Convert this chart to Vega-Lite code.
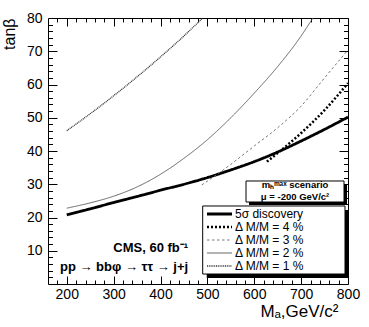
{
  "$schema": "https://vega.github.io/schema/vega-lite/v6.json",
  "width": 300,
  "height": 266,
  "autosize": {"type": "none"},
  "padding": {"left": 48, "top": 18, "right": 21, "bottom": 43},
  "background": "white",
  "config": {
    "view": {"stroke": "black", "strokeWidth": 1},
    "font": "Liberation Sans",
    "axis": {"grid": false, "domain": false, "tickColor": "black", "labelColor": "black", "titleColor": "black", "labelFont": "Liberation Sans", "titleFont": "Liberation Sans"}
  },
  "resolve": {"axis": {"x": "independent", "y": "independent"}},
  "datasets": {
    "curves": [
      {"s": "5σ discovery", "x": 200, "y": 20.8},
      {"s": "5σ discovery", "x": 250, "y": 22.6},
      {"s": "5σ discovery", "x": 300, "y": 24.5},
      {"s": "5σ discovery", "x": 350, "y": 26.3},
      {"s": "5σ discovery", "x": 400, "y": 28.2},
      {"s": "5σ discovery", "x": 450, "y": 30.0},
      {"s": "5σ discovery", "x": 500, "y": 32.0},
      {"s": "5σ discovery", "x": 550, "y": 34.3},
      {"s": "5σ discovery", "x": 600, "y": 36.8},
      {"s": "5σ discovery", "x": 650, "y": 39.7},
      {"s": "5σ discovery", "x": 700, "y": 43.0},
      {"s": "5σ discovery", "x": 750, "y": 46.5},
      {"s": "5σ discovery", "x": 800, "y": 50.2},
      {"s": "Δ M/M = 4 %", "x": 627, "y": 36.8},
      {"s": "Δ M/M = 4 %", "x": 650, "y": 39.4},
      {"s": "Δ M/M = 4 %", "x": 700, "y": 45.4},
      {"s": "Δ M/M = 4 %", "x": 750, "y": 52.3},
      {"s": "Δ M/M = 4 %", "x": 800, "y": 60.4},
      {"s": "Δ M/M = 3 %", "x": 488, "y": 29.8},
      {"s": "Δ M/M = 3 %", "x": 525, "y": 33.4},
      {"s": "Δ M/M = 3 %", "x": 550, "y": 36.0},
      {"s": "Δ M/M = 3 %", "x": 600, "y": 41.5},
      {"s": "Δ M/M = 3 %", "x": 650, "y": 47.0},
      {"s": "Δ M/M = 3 %", "x": 700, "y": 53.5},
      {"s": "Δ M/M = 3 %", "x": 750, "y": 62.0},
      {"s": "Δ M/M = 3 %", "x": 800, "y": 70.4},
      {"s": "Δ M/M = 2 %", "x": 200, "y": 22.8},
      {"s": "Δ M/M = 2 %", "x": 250, "y": 24.4},
      {"s": "Δ M/M = 2 %", "x": 300, "y": 26.4},
      {"s": "Δ M/M = 2 %", "x": 350, "y": 29.2},
      {"s": "Δ M/M = 2 %", "x": 400, "y": 33.0},
      {"s": "Δ M/M = 2 %", "x": 450, "y": 37.8},
      {"s": "Δ M/M = 2 %", "x": 500, "y": 43.4},
      {"s": "Δ M/M = 2 %", "x": 550, "y": 50.0},
      {"s": "Δ M/M = 2 %", "x": 600, "y": 57.4},
      {"s": "Δ M/M = 2 %", "x": 650, "y": 65.4},
      {"s": "Δ M/M = 2 %", "x": 700, "y": 74.6},
      {"s": "Δ M/M = 2 %", "x": 725, "y": 80.0},
      {"s": "Δ M/M = 1 %", "x": 200, "y": 46.1},
      {"s": "Δ M/M = 1 %", "x": 250, "y": 51.2},
      {"s": "Δ M/M = 1 %", "x": 300, "y": 56.6},
      {"s": "Δ M/M = 1 %", "x": 350, "y": 62.3},
      {"s": "Δ M/M = 1 %", "x": 400, "y": 68.3},
      {"s": "Δ M/M = 1 %", "x": 450, "y": 74.6},
      {"s": "Δ M/M = 1 %", "x": 490, "y": 80.0}
    ],
    "boxes": [
      {"kind": "shadow", "x": 588.8, "x2": 797.9, "y": 30.08, "y2": 23.76},
      {"kind": "shadow", "x": 498.6, "x2": 802, "y": 22.26, "y2": 1.8},
      {"kind": "box", "x": 582.4, "x2": 791.5, "y": 30.98, "y2": 24.66},
      {"kind": "box", "x": 490, "x2": 793.6, "y": 23.46, "y2": 3.0}
    ],
    "notes": [
      {"x": 459, "y": 9.7, "text": "CMS, 60 fb⁻¹"},
      {"x": 459, "y": 3.76, "text": "pp → bbφ → ττ → j+j"}
    ],
    "scen": [
      {"x": 687, "y": 28.9, "text": "mₕᵐᵃˣ scenario"},
      {"x": 687, "y": 25.26, "text": "μ = -200 GeV/c²"}
    ]
  },
  "layer": [
    {
      "data": {"name": "curves"},
      "mark": {"type": "line", "interpolate": "monotone", "clip": true},
      "encoding": {
        "x": {"field": "x", "type": "quantitative", "scale": {"domain": [160, 800], "nice": false, "zero": false},
          "axis": {"orient": "bottom", "values": [200, 300, 400, 500, 600, 700, 800], "ticks": false, "labelFontSize": 14, "labelPadding": 3, "labelFlush": false, "labelOverlap": false,
            "title": "Mₐ,GeV/c²", "titleFontSize": 17, "titleFontWeight": "normal", "titleAlign": "right", "titleBaseline": "alphabetic", "titleX": 290, "titleY": 32}},
        "y": {"field": "y", "type": "quantitative", "scale": {"domain": [0, 80], "nice": false, "zero": false},
          "axis": {"orient": "left", "values": [10, 20, 30, 40, 50, 60, 70, 80], "ticks": false, "labelFontSize": 14, "labelPadding": 6, "labelOverlap": false, "labelFlush": false,
            "title": "tanβ", "titleFontSize": 16, "titleFontWeight": "normal", "titleAngle": 270, "titleAlign": "right", "titleBaseline": "alphabetic", "titleX": -33.5, "titleY": 0}},
        "color": {"field": "s", "type": "nominal",
          "scale": {"domain": ["5σ discovery", "Δ M/M = 4 %", "Δ M/M = 3 %", "Δ M/M = 2 %", "Δ M/M = 1 %"], "range": ["#000000", "#000000", "#666666", "#555555", "#333333"]},
          "legend": {"orient": "none", "legendX": 153, "legendY": 190, "title": null, "padding": 0, "offset": 0, "labelFontSize": 12, "labelFont": "Liberation Sans", "labelColor": "black", "symbolType": "M0,0H6", "symbolSize": 69.4, "symbolStrokeWidth": 1.8, "labelOffset": 22, "rowPadding": 1,
            "encoding": {"symbols": {"strokeWidth": {"value": {"expr": "datum.value === '5σ discovery' ? 2.8 : datum.value === 'Δ M/M = 4 %' ? 2.5 : datum.value === 'Δ M/M = 1 %' ? 1.3 : 0.9"}}}}}},
        "strokeDash": {"field": "s", "type": "nominal",
          "scale": {"domain": ["5σ discovery", "Δ M/M = 4 %", "Δ M/M = 3 %", "Δ M/M = 2 %", "Δ M/M = 1 %"], "range": [[1, 0], [2, 2], [2.5, 2.5], [1, 0], [1, 0.8]]},
          "legend": {"orient": "none", "legendX": 153, "legendY": 190, "title": null, "padding": 0, "offset": 0, "labelFontSize": 12, "labelFont": "Liberation Sans", "labelColor": "black", "symbolType": "M0,0H6", "symbolSize": 69.4, "symbolStrokeWidth": 1.8, "labelOffset": 22, "rowPadding": 1,
            "encoding": {"symbols": {"strokeWidth": {"value": {"expr": "datum.value === '5σ discovery' ? 2.8 : datum.value === 'Δ M/M = 4 %' ? 2.5 : datum.value === 'Δ M/M = 1 %' ? 1.3 : 0.9"}}}}}},
        "strokeWidth": {"condition": [{"test": "datum.s === '5σ discovery'", "value": 2.8}, {"test": "datum.s === 'Δ M/M = 4 %'", "value": 2.5}, {"test": "datum.s === 'Δ M/M = 1 %'", "value": 1.3}], "value": 0.9}
      }
    },
    {
      "data": {"name": "boxes"},
      "transform": [{"filter": "datum.kind === 'shadow'"}],
      "mark": {"type": "rect", "fill": "black"},
      "encoding": {
        "x": {"field": "x", "type": "quantitative", "scale": {"domain": [160, 800], "nice": false, "zero": false},
          "axis": {"orient": "bottom", "values": [200, 300, 400, 500, 600, 700, 800], "labels": false, "title": null, "tickSize": -8, "tickWidth": 1}},
        "x2": {"field": "x2"},
        "y": {"field": "y", "type": "quantitative", "scale": {"domain": [0, 80], "nice": false, "zero": false},
          "axis": {"orient": "left", "values": [10, 20, 30, 40, 50, 60, 70], "labels": false, "title": null, "tickSize": -9, "tickWidth": 1}},
        "y2": {"field": "y2"}
      }
    },
    {
      "data": {"name": "boxes"},
      "transform": [{"filter": "datum.kind === 'box'"}],
      "mark": {"type": "rect", "fill": "white", "stroke": "black", "strokeWidth": 1},
      "encoding": {
        "x": {"field": "x", "type": "quantitative", "scale": {"domain": [160, 800], "nice": false, "zero": false},
          "axis": {"orient": "bottom", "values": [180, 220, 240, 260, 280, 320, 340, 360, 380, 420, 440, 460, 480, 520, 540, 560, 580, 620, 640, 660, 680, 720, 740, 760, 780], "labels": false, "title": null, "tickSize": -4, "tickWidth": 1}},
        "x2": {"field": "x2"},
        "y": {"field": "y", "type": "quantitative", "scale": {"domain": [0, 80], "nice": false, "zero": false},
          "axis": {"orient": "left", "values": [2, 4, 6, 8, 12, 14, 16, 18, 22, 24, 26, 28, 32, 34, 36, 38, 42, 44, 46, 48, 52, 54, 56, 58, 62, 64, 66, 68, 72, 74, 76, 78], "labels": false, "title": null, "tickSize": -4.5, "tickWidth": 1}},
        "y2": {"field": "y2"}
      }
    },
    {
      "data": {"name": "notes"},
      "mark": {"type": "text", "align": "right", "baseline": "alphabetic", "fontWeight": "bold", "fontSize": 13, "font": "Liberation Sans", "color": "black"},
      "encoding": {
        "x": {"field": "x", "type": "quantitative", "scale": {"domain": [160, 800], "nice": false, "zero": false},
          "axis": {"orient": "top", "values": [200, 300, 400, 500, 600, 700, 800], "labels": false, "title": null, "tickSize": -8, "tickWidth": 1}},
        "y": {"field": "y", "type": "quantitative", "scale": {"domain": [0, 80], "nice": false, "zero": false},
          "axis": {"orient": "right", "values": [10, 20, 30, 40, 50, 60, 70], "labels": false, "title": null, "tickSize": -9, "tickWidth": 1}},
        "text": {"field": "text"}
      }
    },
    {
      "data": {"name": "scen"},
      "mark": {"type": "text", "align": "center", "baseline": "alphabetic", "fontWeight": "bold", "fontSize": 9.5, "font": "Liberation Sans", "color": "black"},
      "encoding": {
        "x": {"field": "x", "type": "quantitative", "scale": {"domain": [160, 800], "nice": false, "zero": false},
          "axis": {"orient": "top", "values": [180, 220, 240, 260, 280, 320, 340, 360, 380, 420, 440, 460, 480, 520, 540, 560, 580, 620, 640, 660, 680, 720, 740, 760, 780], "labels": false, "title": null, "tickSize": -4, "tickWidth": 1}},
        "y": {"field": "y", "type": "quantitative", "scale": {"domain": [0, 80], "nice": false, "zero": false},
          "axis": {"orient": "right", "values": [2, 4, 6, 8, 12, 14, 16, 18, 22, 24, 26, 28, 32, 34, 36, 38, 42, 44, 46, 48, 52, 54, 56, 58, 62, 64, 66, 68, 72, 74, 76, 78], "labels": false, "title": null, "tickSize": -4.5, "tickWidth": 1}},
        "text": {"field": "text"}
      }
    }
  ]
}
